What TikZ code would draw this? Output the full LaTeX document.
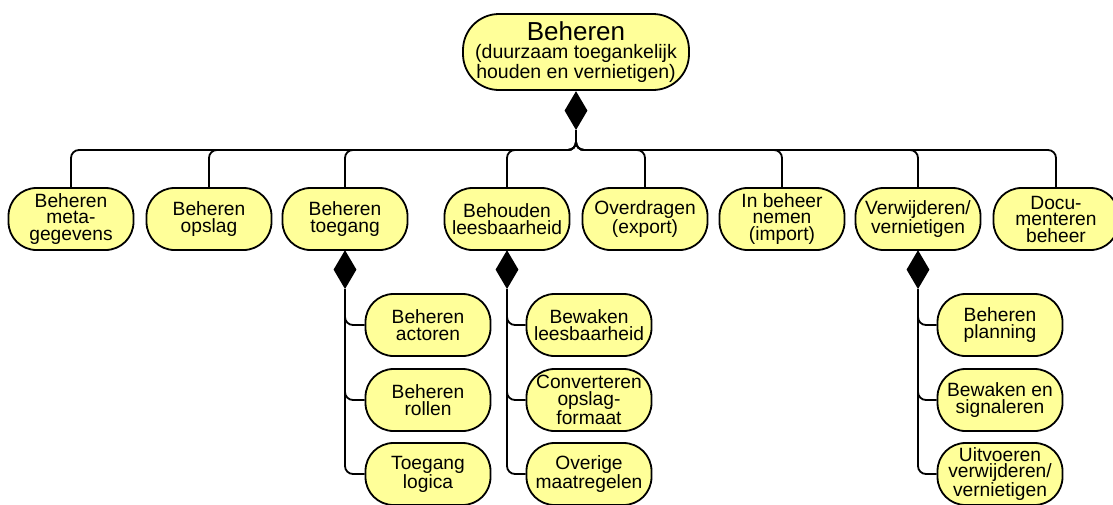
\documentclass[tikz,border=0pt]{standalone}
\usepackage{fontspec}
\setmainfont{Liberation Sans}
\usetikzlibrary{shapes.geometric}
\definecolor{nodefill}{RGB}{255,255,153}
\tikzset{
  procbox/.style={draw=black, line width=1.8pt, fill=nodefill, rounded corners=28pt,
    minimum width=125pt, minimum height=62pt, inner sep=0pt, align=center,
    font=\fontsize{19.2}{16.5}\selectfont},
  topbox/.style={draw=black, line width=1.8pt, fill=nodefill, rounded corners=36pt,
    minimum width=226pt, minimum height=76pt, inner sep=0pt, align=center,
    font=\fontsize{19.5}{18}\selectfont},
  agg/.style={diamond, fill=black, draw=none, inner sep=0pt, minimum width=23pt, minimum height=39pt},
  conn/.style={line width=1.8pt, rounded corners=8pt},
}
\begin{document}
\begin{tikzpicture}[x=1pt,y=-1pt]
\useasboundingbox (0,0) rectangle (1113,504);
% top
\node[topbox] (top) at (576,52) {{\fontsize{26}{18}\selectfont Beheren}\\(duurzaam toegankelijk\\[1pt]houden en vernietigen)};
\node[agg, anchor=north] (d0) at (top.south) {};
\coordinate (fork) at (576,150);
% row
\node[procbox] (n1) at (71,219) {Beheren\\meta-\\gegevens};
\node[procbox] (n2) at (209,219) {Beheren\\opslag};
\node[procbox] (n3) at (345,219) {Beheren\\toegang};
\node[procbox] (n4) at (507,219) {Behouden\\leesbaarheid};
\node[procbox] (n5) at (645,219) {Overdragen\\(export)};
\node[procbox] (n6) at (782,219) {In beheer\\nemen\\(import)};
\node[procbox] (n7) at (918,219) {Verwijderen/\\vernietigen};
\node[procbox] (n8) at (1056,219) {Docu-\\menteren\\beheer};
\foreach \n in {n1,n2,n3,n4,n5,n6,n7,n8}
  \draw[conn] (d0.south) -- (fork) -| (\n.north);
% sub diamonds
\node[agg, anchor=north] (d3) at ([yshift=1pt]n3.south) {};
\node[agg, anchor=north] (d4) at ([yshift=1pt]n4.south) {};
\node[agg, anchor=north] (d7) at ([yshift=1pt]n7.south) {};
% children
\node[procbox] (c31) at (428,325) {Beheren\\actoren};
\node[procbox] (c32) at (428,400) {Beheren\\rollen};
\node[procbox] (c33) at (428,474) {Toegang\\logica};
\node[procbox] (c41) at (589,325) {Bewaken\\leesbaarheid};
\node[procbox] (c42) at (589,400) {Converteren\\opslag-\\formaat};
\node[procbox] (c43) at (589,474) {Overige\\maatregelen};
\node[procbox] (c71) at (1000,325) {Beheren\\planning};
\node[procbox] (c72) at (1000,400) {Bewaken en\\signaleren};
\node[procbox] (c73) at (1000,474) {Uitvoeren\\verwijderen/\\vernietigen};
\foreach \c in {c31,c32,c33} \draw[conn] (d3.south) |- (\c.west);
\foreach \c in {c41,c42,c43} \draw[conn] (d4.south) |- (\c.west);
\foreach \c in {c71,c72,c73} \draw[conn] (d7.south) |- (\c.west);
\end{tikzpicture}
\end{document}
